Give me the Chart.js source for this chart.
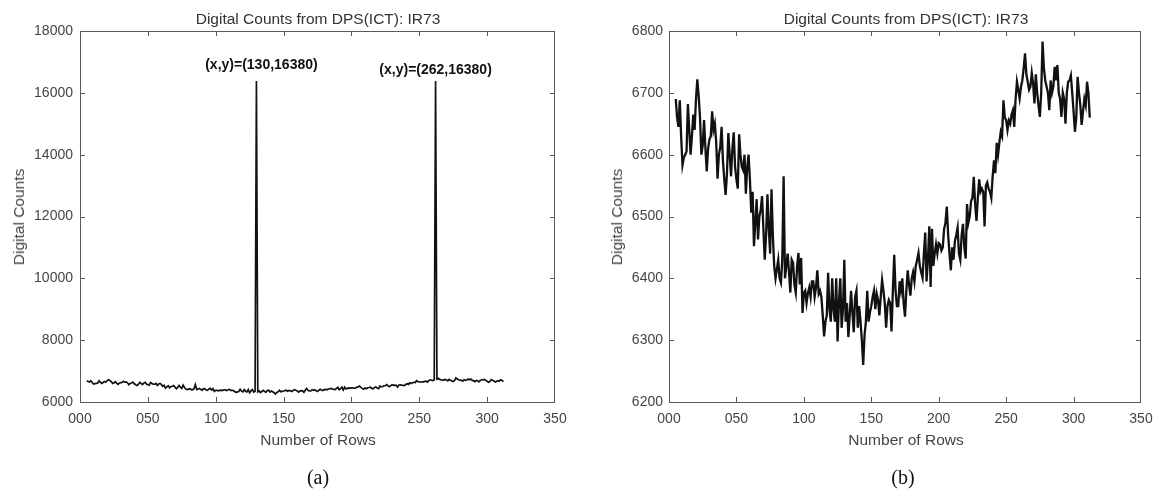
<!DOCTYPE html>
<html>
<head>
<meta charset="utf-8">
<script src="https://cdn.jsdelivr.net/npm/chart.js@4/dist/chart.umd.min.js"></script>
<style>
  html, body { margin: 0; padding: 0; background: #fff; }
  body { width: 1168px; height: 494px; position: relative; overflow: hidden; font-family: "Liberation Sans", Arial, sans-serif; }
  .panel { position: absolute; top: 0; width: 584px; height: 494px; }
  .txt { position: absolute; white-space: nowrap; color: #333; font-size: 15.5px; transform: translate(-50%, -50%); }
  .ytitle { transform: translate(-50%, -50%) rotate(-90deg); color: #444; }
  .cap { font-family: "Liberation Serif", "Times New Roman", serif; font-size: 20px; color: #111; }
</style>
</head>
<body>
<div class="panel" style="left:0"><canvas id="ca" width="584" height="494"></canvas></div>
<div class="panel" style="left:584px"><canvas id="cb" width="584" height="494"></canvas></div>

<div class="txt" style="left:318px; top:19px">Digital Counts from DPS(ICT): IR73</div>
<div class="txt" style="left:906px; top:19px">Digital Counts from DPS(ICT): IR73</div>
<div class="txt" style="left:318px; top:440px; color:#444">Number of Rows</div>
<div class="txt" style="left:906px; top:440px; color:#444">Number of Rows</div>
<div class="txt ytitle" style="left:19px; top:217px">Digital Counts</div>
<div class="txt ytitle" style="left:617px; top:217px">Digital Counts</div>
<div class="txt cap" style="left:318px; top:477px">(a)</div>
<div class="txt cap" style="left:903px; top:477px">(b)</div>

<script>
// ---------- data ----------
const firstRow = 5;
const counts = [
  6690, 6660, 6645, 6688, 6630, 6583, 6595, 6600, 6605, 6682,
  6640, 6600, 6630, 6665, 6640, 6690, 6722, 6695, 6660, 6600,
  6615, 6656, 6610, 6573, 6610, 6625, 6630, 6670, 6640, 6650,
  6620, 6561, 6600, 6612, 6645, 6590, 6560, 6535, 6570, 6635,
  6600, 6565, 6610, 6636, 6580, 6560, 6545, 6633, 6600, 6580,
  6575, 6600, 6537, 6580, 6600, 6560, 6506, 6540, 6452, 6490,
  6528, 6463, 6500, 6510, 6533, 6480, 6430, 6470, 6536, 6480,
  6440, 6544, 6470, 6420, 6400, 6415, 6430, 6400, 6393, 6430,
  6565, 6400, 6420, 6440, 6410, 6377, 6430, 6425, 6390, 6377,
  6420, 6441, 6390, 6433, 6344, 6376, 6380, 6360, 6376, 6385,
  6370, 6395, 6395, 6370, 6385, 6413, 6375, 6380, 6370, 6340,
  6306, 6330, 6340, 6409, 6350, 6330, 6400, 6350, 6330, 6400,
  6298, 6360, 6400, 6320, 6350, 6430, 6330, 6360, 6305, 6340,
  6380, 6345, 6313, 6370, 6380, 6320, 6355, 6330, 6300, 6260,
  6308, 6330, 6380, 6330, 6345, 6355, 6370, 6380, 6350, 6375,
  6365, 6340, 6370, 6397, 6380, 6360, 6320, 6355, 6365, 6360,
  6314, 6380, 6438, 6380, 6355, 6355, 6395, 6380, 6400, 6360,
  6338, 6380, 6413, 6390, 6372, 6400, 6410, 6395, 6420, 6430,
  6441, 6420, 6410, 6401, 6440, 6474, 6395, 6430, 6484, 6386,
  6480, 6420, 6440, 6455, 6440, 6457, 6455, 6445, 6450, 6480,
  6490, 6516, 6470, 6440, 6413, 6450, 6430, 6460, 6470, 6482,
  6440, 6430, 6470, 6488, 6450, 6432, 6520, 6490, 6500, 6525,
  6530, 6564, 6520, 6493, 6530, 6560, 6540, 6545, 6540, 6484,
  6550, 6555, 6545, 6540, 6530, 6565, 6591, 6570, 6619, 6600,
  6620, 6637, 6630, 6688, 6660, 6656, 6640, 6655, 6650, 6665,
  6672, 6645, 6690, 6718, 6705, 6691, 6710, 6720, 6740, 6764,
  6730, 6718, 6705, 6710, 6732, 6715, 6683, 6730, 6700, 6680,
  6661, 6700, 6783, 6740, 6720, 6710, 6700, 6672, 6720, 6700,
  6710, 6742, 6720, 6745, 6700, 6690, 6661, 6700, 6690, 6650,
  6700, 6718, 6720, 6728, 6700, 6670, 6637, 6660, 6726, 6700,
  6680, 6648, 6670, 6690, 6680, 6718, 6700, 6660
];
const spikeRows = [130, 262];
const spikeValues = [16380, 16380];

const xTicks = [0, 50, 100, 150, 200, 250, 300, 350];
const xTickLabels = ['000', '050', '100', '150', '200', '250', '300', '350'];
const yTicksA = [6000, 8000, 10000, 12000, 14000, 16000, 18000];
const yTicksB = [6200, 6300, 6400, 6500, 6600, 6700, 6800];

// ---------- build point lists ----------
const pointsB = counts.map((v, i) => ({ x: firstRow + i, y: v }));
const pointsA = counts.map((v, i) => {
  const r = firstRow + i;
  const k = spikeRows.indexOf(r);
  return { x: r, y: k >= 0 ? spikeValues[k] : v };
});

const FONT = '"Liberation Sans", Arial, sans-serif';

const boxTicks = {
  id: 'boxTicks',
  afterDraw(chart) {
    const { ctx, chartArea: a, scales } = chart;
    ctx.save();
    ctx.strokeStyle = '#5a5a5a';
    ctx.lineWidth = 1;
    ctx.strokeRect(Math.round(a.left) + 0.5, Math.round(a.top) + 0.5,
                   Math.round(a.right - a.left) - 1, Math.round(a.bottom - a.top));
    const L = 5;
    ctx.beginPath();
    scales.x.ticks.forEach(t => {
      const px = Math.round(scales.x.getPixelForValue(t.value)) + 0.5;
      if (px <= a.left + 1 || px >= a.right - 1) return;
      ctx.moveTo(px, a.bottom); ctx.lineTo(px, a.bottom - L);
      ctx.moveTo(px, a.top); ctx.lineTo(px, a.top + L);
    });
    scales.y.ticks.forEach(t => {
      const py = Math.round(scales.y.getPixelForValue(t.value)) + 0.5;
      if (py <= a.top + 1 || py >= a.bottom - 1) return;
      ctx.moveTo(a.left, py); ctx.lineTo(a.left + L, py);
      ctx.moveTo(a.right, py); ctx.lineTo(a.right - L, py);
    });
    ctx.stroke();
    ctx.restore();
  }
};

const peakLabels = {
  id: 'peakLabels',
  afterDatasetsDraw(chart, args, opts) {
    if (!opts || !opts.rows) return;
    const { ctx, scales } = chart;
    ctx.save();
    ctx.font = 'bold 14px ' + FONT;
    ctx.fillStyle = '#111';
    ctx.textAlign = 'center';
    ctx.textBaseline = 'middle';
    opts.rows.forEach((r, i) => {
      const px = scales.x.getPixelForValue(r) + opts.dx[i];
      const py = scales.y.getPixelForValue(opts.values[i]) + opts.dy[i];
      ctx.fillText('(x,y)=(' + r + ',' + opts.values[i] + ')', px, py);
    });
    ctx.restore();
  }
};

function makeChart(id, points, yTicks, lineWidth, axisWidth, padRight, yPad, peaks) {
  return new Chart(document.getElementById(id), {
    type: 'line',
    data: {
      datasets: [{
        data: points,
        borderColor: '#111',
        borderWidth: lineWidth,
        pointRadius: 0,
        tension: 0,
        fill: false
      }]
    },
    options: {
      responsive: false,
      animation: false,
      events: [],
      layout: { padding: { top: 31, right: padRight, left: 0, bottom: 0 } },
      plugins: {
        legend: { display: false },
        tooltip: { enabled: false },
        title: { display: false },
        peakLabels: peaks
      },
      scales: {
        x: {
          type: 'linear',
          min: xTicks[0],
          max: xTicks[xTicks.length - 1],
          afterBuildTicks: s => { s.ticks = xTicks.map(v => ({ value: v })); },
          afterFit: s => { s.height = 92; },
          grid: { display: false, drawTicks: false },
          border: { display: false },
          ticks: {
            padding: 9,
            color: '#444',
            font: { family: FONT, size: 14 },
            maxRotation: 0,
            autoSkip: false,
            callback: v => xTickLabels[xTicks.indexOf(v)]
          }
        },
        y: {
          type: 'linear',
          min: yTicks[0],
          max: yTicks[yTicks.length - 1],
          afterBuildTicks: s => { s.ticks = yTicks.map(v => ({ value: v })); },
          afterFit: s => { s.width = axisWidth; },
          grid: { display: false, drawTicks: false },
          border: { display: false },
          ticks: {
            padding: yPad,
            color: '#444',
            font: { family: FONT, size: 14 },
            autoSkip: false,
            callback: v => String(v)
          }
        }
      }
    },
    plugins: [boxTicks, peakLabels]
  });
}

makeChart('ca', pointsA, yTicksA, 1.7, 80, 29, 7,
  { rows: spikeRows, values: spikeValues, dx: [5, 0], dy: [-16, -11] });
makeChart('cb', pointsB, yTicksB, 2.3, 85, 27, 6, false);
</script>
</body>
</html>
